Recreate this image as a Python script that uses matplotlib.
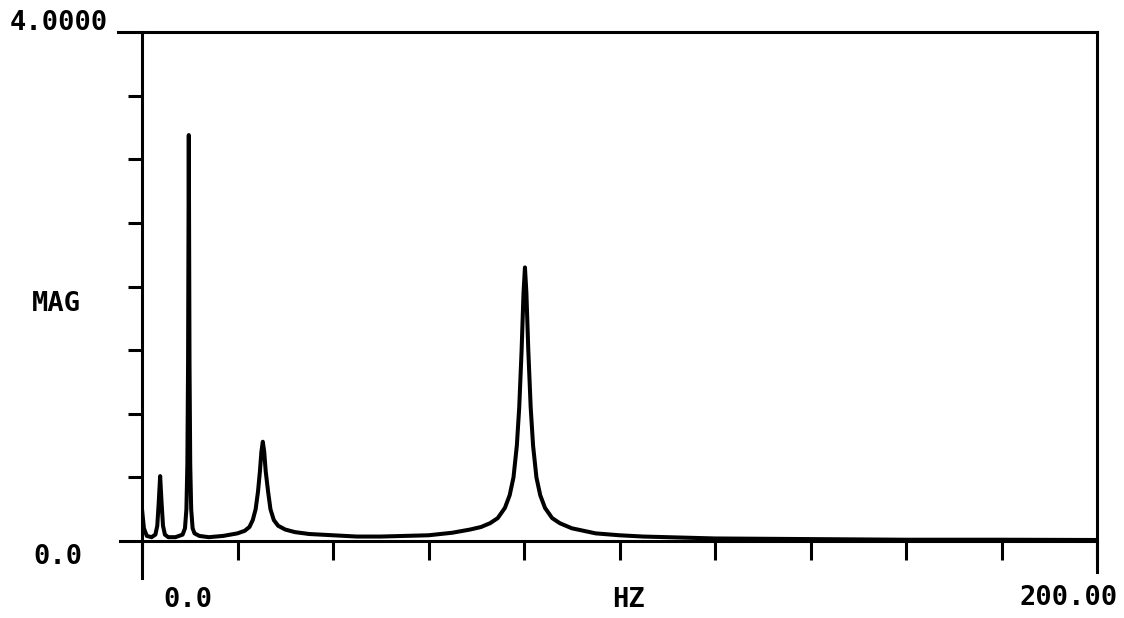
import matplotlib.pyplot as plt
import numpy as np

# spectrum magnitude, read point by point (Hz, MAG)
freq = [0.0, 0.4, 1.0, 2.0, 2.8, 3.2, 3.5, 3.8, 4.1, 4.4, 4.8, 5.5,
        7.0, 8.5, 9.0, 9.3, 9.5, 9.65, 9.8, 9.95, 10.1, 10.3, 10.6, 11.0,
        12.0, 14.0, 17.0,
        20.0, 21.5, 22.5, 23.2, 23.8, 24.3, 24.7, 25.0, 25.3, 25.6, 25.9,
        26.4, 26.9, 27.6, 28.5, 30.0, 32.0, 35.0, 40.0, 45.0, 50.0, 55.0,
        60.0, 65.0, 68.7, 71.0, 72.9, 74.5, 76.0, 77.0, 77.8, 78.5, 79.0,
        79.5, 79.9, 80.2, 80.5, 80.9, 81.4, 81.9, 82.6, 83.4, 84.4, 85.9,
        87.5, 90.0, 95.0, 100.0, 105.0, 110.0, 120.0, 140.0, 160.0,
        180.0, 200.0]
mag = [0.25, 0.10, 0.04, 0.03, 0.05, 0.12, 0.30, 0.51, 0.30, 0.12, 0.05, 0.03,
       0.03, 0.05, 0.10, 0.25, 0.60, 1.40, 3.19, 1.40, 0.60, 0.25, 0.10, 0.06,
       0.04, 0.03, 0.04,
       0.06, 0.08, 0.11, 0.165, 0.25, 0.39, 0.55, 0.70, 0.78, 0.70, 0.55,
       0.39, 0.25, 0.165, 0.12, 0.09, 0.07, 0.055, 0.045, 0.035, 0.035, 0.04,
       0.045, 0.065, 0.09, 0.11, 0.14, 0.18, 0.26, 0.36, 0.50, 0.75, 1.05,
       1.50, 1.95, 2.15, 1.95, 1.50, 1.05, 0.75, 0.50, 0.36, 0.26, 0.18,
       0.14, 0.10, 0.06, 0.045, 0.035, 0.03, 0.02, 0.015, 0.01,
       0.01, 0.008]

xticks = np.arange(0, 201, 20)
yticks = np.arange(0.5, 4.0, 0.5)

W, H = 1124, 618
fig = plt.figure(figsize=(W / 100, H / 100), dpi=100)
ax = fig.add_axes([142 / W, (H - 541) / H, 955 / W, 509 / H])

ax.plot(freq, mag, color="black", lw=2.9, solid_joinstyle="round")
ax.set_xlim(0, 200)
ax.set_ylim(0, 4)

# frame lines run past the plotting box like the old plotter output
for s in ax.spines.values():
    s.set_linewidth(2.2)
ax.spines["left"].set_bounds(-0.29, 4)
ax.spines["right"].set_bounds(-0.24, 4)
ax.spines["bottom"].set_bounds(-4.6, 200)
ax.spines["top"].set_bounds(-5.0, 200)

ax.set_xticks(xticks)
ax.set_yticks(yticks)
ax.tick_params(axis="x", direction="out", length=14, width=2.2, labelbottom=False)
ax.tick_params(axis="y", direction="out", length=10, width=2.2, labelleft=False)

font = dict(family="DejaVu Sans Mono", fontweight="bold", fontsize=19.5)
fig.text(108 / W, 1 - 23 / H, "4.0000", ha="right", va="center", **font)
fig.text(33 / W, 1 - 557 / H, "0.0", ha="left", va="center", **font)
fig.text(32 / W, 1 - 304 / H, "MAG", ha="left", va="center", **font)
fig.text(163 / W, 1 - 600 / H, "0.0", ha="left", va="center", **font)
fig.text(629 / W, 1 - 600 / H, "HZ", ha="center", va="center", **font)
fig.text(1118 / W, 1 - 598 / H, "200.00", ha="right", va="center", **font)

fig.savefig("out.png", dpi=100, facecolor="white")
